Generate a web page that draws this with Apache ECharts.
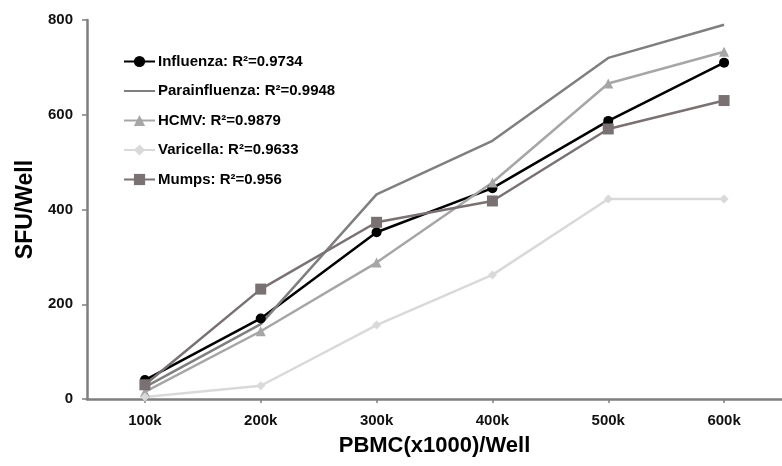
<!DOCTYPE html>
<html>
<head>
<meta charset="utf-8">
<script src="https://cdn.jsdelivr.net/npm/echarts@6/dist/echarts.min.js"></script>
<style>html,body{margin:0;padding:0;background:#fff}#c{width:782px;height:466px}</style>
</head>
<body>
<div id="c"></div>
<script>
const categories = ['100k', '200k', '300k', '400k', '500k', '600k'];
const yTicks = [0, 200, 400, 600, 800];
const influenza = [40, 170, 352, 445, 587, 710];
const parainfluenza = [25, 158, 432, 545, 720, 790];
const hcmv = [15, 143, 288, 457, 666, 733];
const varicella = [4, 28, 156, 262, 422, 422];
const mumps = [30, 232, 373, 418, 570, 630];
const seriesNames = ['Influenza: R²=0.9734', 'Parainfluenza: R²=0.9948', 'HCMV: R²=0.9879', 'Varicella: R²=0.9633', 'Mumps: R²=0.956'];

const FONT = '"Liberation Sans", Arial, sans-serif';
const chart = echarts.init(document.getElementById('c'));
function mk(name, data, color, symbol, size, width) {
  return {
    name: name, type: 'line', data: data,
    symbol: symbol, symbolSize: size, showSymbol: symbol !== 'none',
    lineStyle: { color: color, width: width },
    itemStyle: { color: color },
    emphasis: { disabled: true },
    animation: false
  };
}
chart.setOption({
  animation: false,
  grid: { left: 87, right: -6, top: 20, bottom: 67 },
  legend: {
    orient: 'vertical', left: 123, top: 54, padding: 0,
    itemWidth: 31, itemHeight: 14, itemGap: 14.5,
    textStyle: { fontFamily: FONT, fontWeight: 'bold', fontSize: 15, color: '#000', padding: [0, 0, 0, -2] },
    data: [
      { name: seriesNames[0] },
      { name: seriesNames[1], itemStyle: { opacity: 0 } },
      { name: seriesNames[2] },
      { name: seriesNames[3] },
      { name: seriesNames[4] }
    ]
  },
  xAxis: {
    type: 'category', data: categories, boundaryGap: true,
    name: 'PBMC(x1000)/Well', nameLocation: 'middle', nameGap: 36,
    nameTextStyle: { fontFamily: FONT, fontWeight: 'bold', fontSize: 22, color: '#000' },
    axisLine: { lineStyle: { color: '#7f7f7f', width: 2.5 } },
    axisTick: { show: true, alignWithLabel: true, length: 4, lineStyle: { color: '#7f7f7f', width: 1.5 } },
    axisLabel: { fontFamily: FONT, fontWeight: 'bold', fontSize: 15, color: '#111', margin: 14 }
  },
  yAxis: {
    type: 'value', min: 0, max: 800, interval: 200,
    name: 'SFU/Well', nameLocation: 'middle', nameGap: 48, nameRotate: 90,
    nameTextStyle: { fontFamily: FONT, fontWeight: 'bold', fontSize: 23, color: '#000' },
    axisLine: { show: true, lineStyle: { color: '#7f7f7f', width: 2.5 } },
    axisTick: { show: true, length: 5, lineStyle: { color: '#7f7f7f', width: 1.5 } },
    splitLine: { show: false },
    axisLabel: { fontFamily: FONT, fontWeight: 'bold', fontSize: 15, color: '#111', margin: 14,
      formatter: function (v) { return yTicks.indexOf(v) >= 0 ? String(v) : ''; } }
  },
  series: [
    mk(seriesNames[0], influenza, '#000000', 'circle', 10, 2.5),
    mk(seriesNames[1], parainfluenza, '#7f7f7f', 'none', 0, 2.5),
    mk(seriesNames[2], hcmv, '#a6a6a6', 'triangle', 10, 2.5),
    mk(seriesNames[3], varicella, '#d9d9d9', 'diamond', 9, 2.5),
    mk(seriesNames[4], mumps, '#7a7272', 'rect', 11, 2.5)
  ]
});
</script>
</body>
</html>
